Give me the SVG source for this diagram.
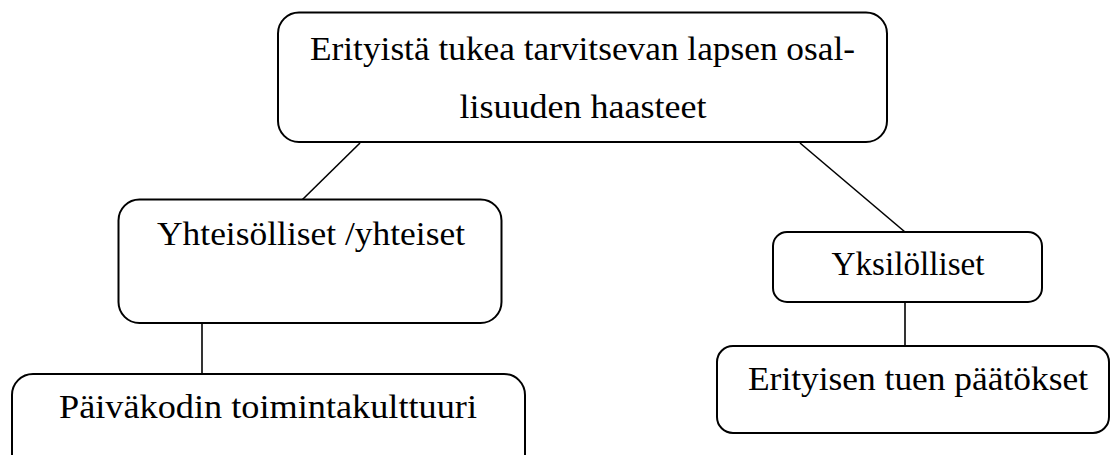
<svg xmlns="http://www.w3.org/2000/svg" width="1110" height="455" viewBox="0 0 1110 455">
<style>
.box{fill:#fff;stroke:#000;stroke-width:2}
.t{font-family:"Liberation Serif","DejaVu Serif",serif;font-size:34px;fill:#000;text-anchor:middle}
.c{stroke:#000;stroke-width:1.6;fill:none}
</style>
<rect width="1110" height="455" fill="#fff"/>
<g id="connectors">
<line class="c" x1="360" y1="143" x2="302" y2="200"/>
<line class="c" x1="800" y1="143" x2="905" y2="232"/>
<line class="c" x1="202" y1="323" x2="202" y2="374"/>
<line class="c" x1="905" y1="302" x2="905" y2="346"/>
</g>
<g id="n-root">
<rect class="box" x="278" y="12.5" width="609" height="129.5" rx="21"/>
<text class="t" x="582.5" y="60" textLength="545" lengthAdjust="spacingAndGlyphs">Erityistä tukea tarvitsevan lapsen osal-</text>
<text class="t" x="583" y="118" textLength="247" lengthAdjust="spacingAndGlyphs">lisuuden haasteet</text>
</g>
<g id="n-yhteiset">
<rect class="box" x="118.5" y="199.5" width="383" height="123.5" rx="21"/>
<text class="t" x="311" y="245" textLength="308" lengthAdjust="spacingAndGlyphs">Yhteisölliset /yhteiset</text>
</g>
<g id="n-yksilolliset">
<rect class="box" x="773" y="232" width="269" height="70" rx="14"/>
<text class="t" x="908" y="275" textLength="153" lengthAdjust="spacingAndGlyphs">Yksilölliset</text>
</g>
<g id="n-paivakoti">
<rect class="box" x="12" y="374" width="513" height="110" rx="21"/>
<text class="t" x="268" y="418" textLength="418" lengthAdjust="spacingAndGlyphs">Päiväkodin toimintakulttuuri</text>
</g>
<g id="n-paatokset">
<rect class="box" x="717" y="346" width="392" height="87" rx="16"/>
<text class="t" x="918" y="390" textLength="340" lengthAdjust="spacingAndGlyphs">Erityisen tuen päätökset</text>
</g>
</svg>
